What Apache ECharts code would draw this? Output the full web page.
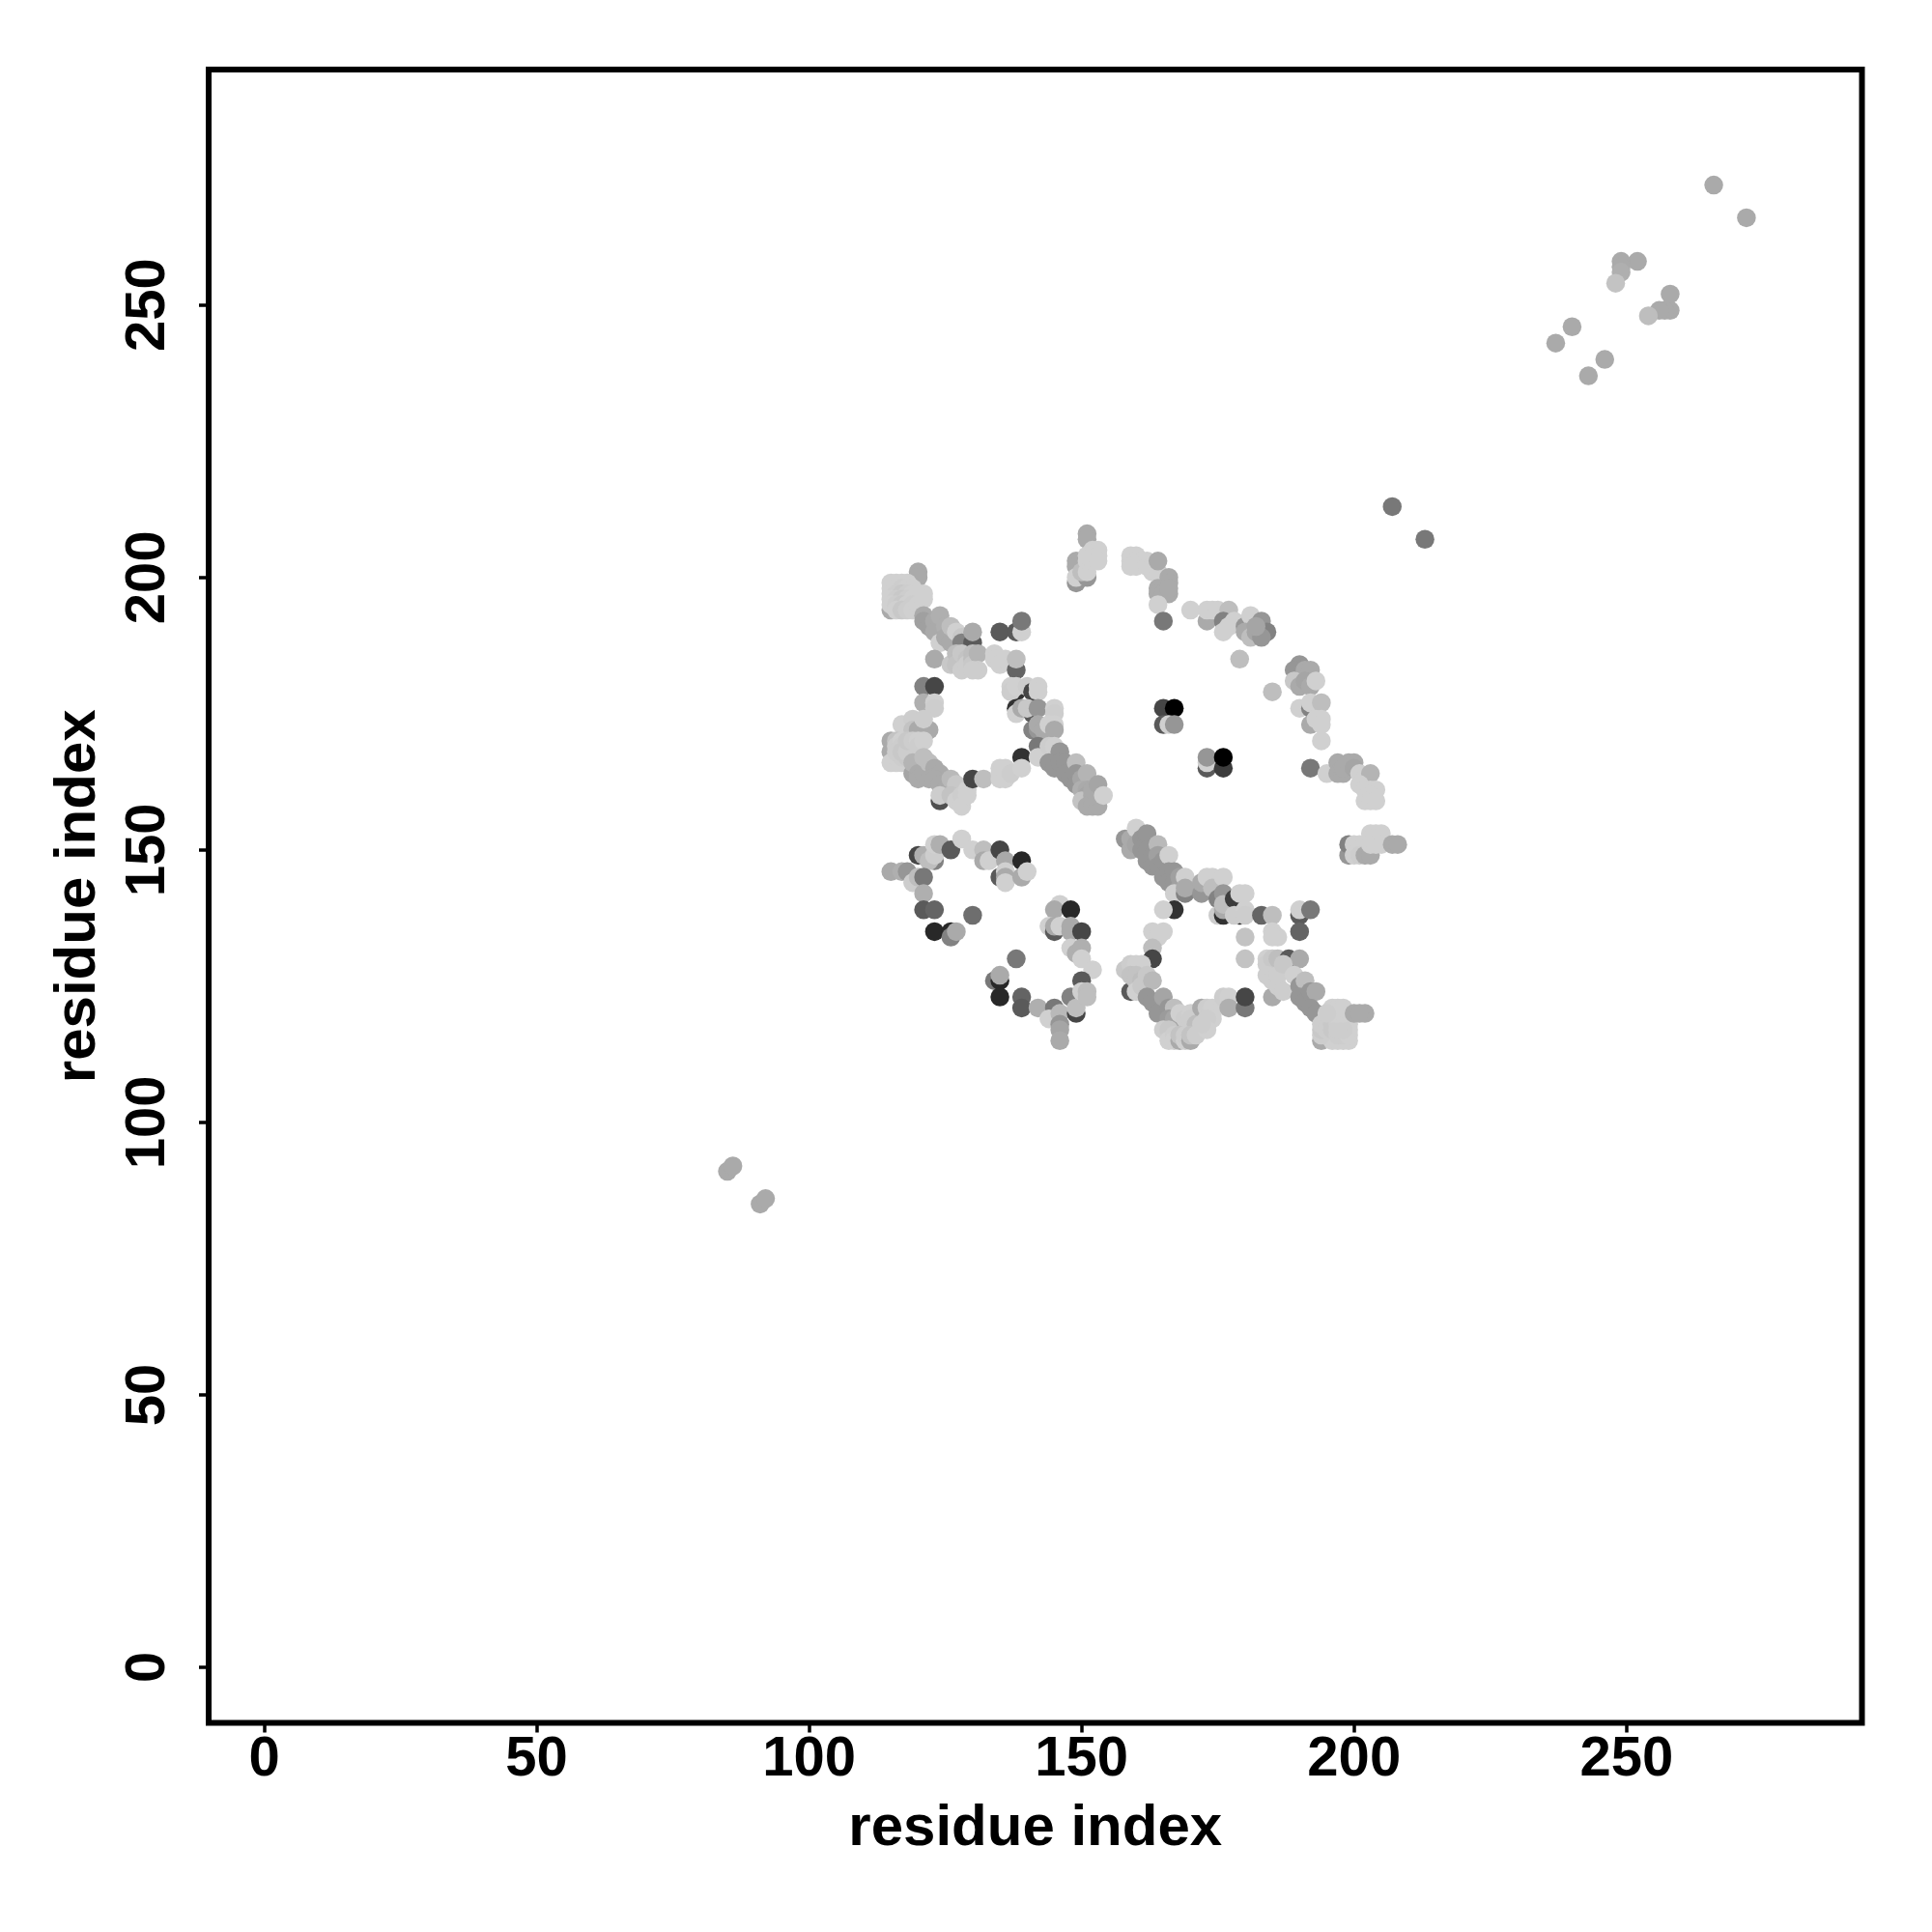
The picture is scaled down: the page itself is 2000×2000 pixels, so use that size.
<!DOCTYPE html>
<html><head><meta charset="utf-8">
<style>html,body{margin:0;padding:0;background:#fff}#c{width:2000px;height:2000px}</style>
<script src="https://cdn.jsdelivr.net/npm/echarts@6/dist/echarts.min.js"></script>
</head><body><div id="c"></div>
<script>
const tickValues=[0,50,100,150,200,250];
const axisTitle='residue index';
// each entry: [residue x, residue y, grey level]
const farContacts=[[85,91,170],[86,92,170],[91,85,170],[92,86,170],[207,213,120],[213,207,120],
[266,272,170],[272,266,170],[252,258,170],[249,258,170],[249,257,170],[249,256,175],[248,254,195],[258,252,170],[258,249,170],[257,249,170],[256,249,170],[254,248,190],[240,246,170],[237,243,170],[246,240,170],[243,237,170]];
const upperLeftDiagonal=[[115,194,170],[120,201,170],[120,200,170],
[116,199,208],[117,199,208],[118,199,208],[115,199,208],[115,198,208],[116,198,208],[117,198,205],[118,198,208],[119,198,208],[115,197,208],[116,197,205],[117,197,200],[118,197,205],[119,197,208],[115,196,208],[116,196,205],[117,196,200],[118,196,205],[119,196,208],[120,197,208],[115,195,208],[116,195,205],[117,195,200],[118,195,208],[119,195,205],[116,194,208],[117,194,200],[118,194,205],[119,194,208],[120,195,208],[121,197,208],[121,196,208],
[121,193,170],[121,192,160],[122,191,160],[123,192,170],[123,190,170],[124,193,175],[125,191,175],[124,188,208],[125,189,170],[126,188,170],[126,191,190],[127,190,208],[128,189,200],[128,188,130],[130,188,90],[130,190,170],
[123,185,170],[126,184,200],[127,186,190],[127,184,195],[128,186,200],[128,183,205],[129,185,195],[129,184,205],[130,186,190],[130,185,190],[130,184,200],[131,186,180],[131,183,205],[130,183,205],
[134,186,208],[134,185,208],[135,185,208],[135,184,208],[136,185,208]];
const upperLeftMiddle=[[135,190,90],[138,190,90],[139,190,208],[139,192,120],[138,183,100],[138,185,190],
[138,179,50],[137,180,208],[137,179,205],[138,180,208],[140,180,205],[141,179,70],[142,180,208],[142,179,208],[138,176,50],[138,175,208],[139,176,170],[141,176,70],[141,175,90],[140,176,200],[142,176,150],[145,176,208],[145,175,205],
[141,172,130],[142,172,150],[142,173,170],[143,172,170],[144,173,208],[145,173,208],[145,172,170],
[139,167,50],[142,169,120],[142,167,208],[144,169,205],[145,169,208],[146,168,150],[144,166,150],[145,165,150],[146,166,150],[147,166,150],[147,164,150],[149,166,190],
[148,163,150],[149,164,150],[149,162,150],[150,163,165],[151,164,180],[150,161,175],[151,161,170],[151,160,165],[150,159,195],[151,158,170],[152,158,170],[153,158,170],[152,160,170],[152,161,170],[153,162,165],[154,160,208]];
const upperLeftLoop=[[121,180,130],[123,180,70],[121,177,175],[123,177,208],[123,176,205],[117,173,208],[119,174,205],[119,172,195],[120,172,170],[121,172,170],[122,172,170],[121,174,205],
[115,170,170],[115,168,170],[116,170,195],[116,169,205],[117,170,208],[117,169,205],[115,166,208],[116,166,208],[117,166,208],[118,166,208],[116,167,208],[117,167,205],[118,167,200],[116,168,205],[117,168,200],[118,168,205],[118,170,200],[119,170,205],[120,170,208],[120,169,205],[121,170,208],
[119,164,165],[120,165,170],[119,166,180],[120,164,170],[120,163,170],[121,164,170],[122,166,190],[121,167,190],[123,165,170],[124,164,170],[122,163,170],[123,163,170],[124,162,170],[125,161,170],[126,163,185],[127,162,200],
[124,159,80],[124,160,205],[126,160,195],[127,159,208],[128,160,205],[128,158,208],[129,161,208],[129,160,208],[130,163,70],[132,163,190],[135,165,208],[135,164,208],[135,163,208],[136,165,208],[136,163,208],[137,164,205],[139,165,208]];
const upperMiddleBlocks=[[151,208,170],[151,207,170],[149,203,170],[149,202,170],[149,199,150],[149,200,208],[151,200,150],[150,201,190],[151,201,208],[151,203,208],[151,204,208],[152,205,208],[153,205,208],[152,204,208],[153,204,208],[152,203,208],[153,203,208],
[159,204,208],[160,204,208],[159,203,208],[160,203,208],[159,202,208],[160,202,208],[161,203,208],[162,203,208],[162,202,208],[163,202,208],[163,201,208],[164,201,208],[164,203,170],
[166,200,170],[166,199,170],[164,198,170],[164,197,170],[165,197,170],[166,197,170],[166,198,170],[164,195,208],[165,192,120]];
const upperRightArc=[[170,194,208],[173,192,170],[173,194,208],[174,194,208],[175,194,208],[177,194,190],[176,192,130],[178,192,208],[176,190,208],[177,191,208],
[180,191,150],[181,193,208],[180,190,170],[181,189,190],[182,190,165],[183,192,150],[184,190,130],[183,189,150],[182,191,165],[179,185,190],[185,179,190],
[190,184,150],[189,183,150],[191,183,170],[192,183,170],[189,181,200],[190,180,170],[191,181,165],[192,180,170],[193,181,208],[190,176,208],[192,176,130],[192,177,208],[194,177,190],
[192,173,170],[194,174,208],[193,174,208],[194,173,208],[194,170,208],
[192,165,120],[195,164,208],[197,166,170],[197,164,170],[198,164,170],[198,165,170],[199,166,170],[200,166,170],[200,165,165],[201,164,208],[202,163,208],[203,164,180],[201,162,208],[202,161,208],[203,161,208],[204,161,208],[203,160,208],[202,159,208],[203,159,208],[204,159,208]];
const centreContacts=[[165,176,70],[167,176,0],[165,173,90],[166,173,208],[167,173,150],[173,165,90],[173,166,208],[173,167,150],[176,165,60],[176,167,0]];
const lowerLeftUpper=[[120,149,70],[123,148,130],[115,146,170],[117,146,175],[118,146,150],[119,144,205],[120,145,190],[121,149,175],[122,148,190],[123,149,205],[123,151,208],[124,151,175],[126,150,90],[128,152,208],[130,150,208],[132,150,190],[132,148,170],[133,148,208],[135,150,70],[135,145,90],[136,148,170],[136,146,208],[136,145,170],[136,144,208],[139,148,40],[139,145,170],[140,146,208],
[121,145,120],[121,142,175],[121,139,90],[123,139,100],[130,138,110],[123,135,40],[126,135,40],[126,134,130],[127,135,170]];
const lowerLeftLoop=[[146,140,208],[145,139,170],[148,139,40],[144,136,208],[145,135,90],[145,136,170],[146,136,208],[148,136,170],[148,135,170],[150,135,70],[148,132,208],[149,131,175],[150,132,175],[150,130,208],[152,128,208],
[138,130,120],[150,126,90],[134,126,120],[135,126,40],[135,127,170],[135,123,40],[139,123,100],[139,121,90],[142,121,175],[145,121,120],[144,119,208],[146,120,185],[146,118,150],[146,117,165],[146,115,170],[148,123,130],[149,120,70],[149,121,190],[150,124,208],[151,124,190],[151,123,190]];
const lowerRightDiagonal=[[158,152,150],[159,150,170],[159,152,170],[160,154,208],[160,151,165],[161,152,150],[161,150,150],[162,153,150],[162,150,150],[162,148,150],[163,149,150],[163,147,150],[164,151,185],[164,149,160],[164,147,150],[165,148,150],[165,145,150],[166,149,208],[166,146,150],[166,144,150],[167,146,150],[167,144,150],[168,145,160],[168,143,160],[169,145,208],
[167,142,208],[169,142,130],[169,143,170],[172,142,150],[172,144,170],[173,145,208],[174,145,208],[174,143,190],[176,145,208],[175,141,130],[176,142,150],[175,138,205],[176,138,50],[176,139,170],[176,140,190],[178,141,60],[179,138,40],[178,138,205],[179,142,208],[180,142,208],[180,139,208],[180,138,205],[183,138,100],[185,138,190],
[185,135,208],[186,134,208],[185,134,208],[190,138,90],[190,139,208],[192,139,120],[190,135,100],[180,134,195],[180,130,195]];
const lowerMiddleArc=[[167,139,50],[165,139,208],[163,135,208],[165,135,208],[164,134,208],[163,132,190],[163,130,70]];
const lowerMiddleLoop=[[159,124,90],[158,128,200],[159,129,205],[160,129,208],[161,129,208],[159,127,195],[160,127,195],[160,126,195],[161,126,190],[160,124,208],[161,124,208],[161,125,200],[162,127,200],[163,126,185],
[162,123,150],[163,122,150],[164,120,150],[165,123,165],[166,121,150],[167,121,190],[166,119,155],[167,119,165],[165,117,205],[166,117,200],[168,120,208],[169,119,205],[170,120,208],[170,119,205],[171,118,190],
[166,115,208],[167,116,205],[167,115,208],[168,115,170],[168,116,195],[169,115,208],[169,116,205],[170,115,170],[170,116,195],[171,116,205],[172,121,170],[173,121,205],[174,121,208],[174,120,208],[174,119,208],[173,119,205],[173,117,208],[172,118,205],
[176,123,205],[177,123,208],[177,121,175],[180,121,120],[180,123,70]];
const lowerRightLoop=[[185,123,170],[184,130,208],[184,129,205],[185,130,200],[186,130,190],[188,130,90],[188,128,130],[190,130,170],[184,127,205],[185,126,205],[186,125,205],[186,127,205],[187,129,200],
[187,124,205],[189,127,208],[190,125,150],[191,126,190],[190,123,150],[191,122,150],[192,124,150],[193,124,170],[192,121,150],[193,120,150],
[194,115,170],[195,116,208],[196,115,208],[197,115,208],[198,115,208],[199,115,208],[194,116,205],[194,117,200],[194,118,205],[195,117,205],[196,117,200],[197,116,205],[198,116,205],[199,116,208],[195,119,205],[196,119,205],[196,118,200],[197,118,205],[198,118,208],[199,118,208],[199,117,208],[198,117,205],[197,117,205],[196,120,208],[197,120,208],[198,120,208],[196,121,208],[197,121,208],[198,121,208],[195,120,205],[200,120,170],[202,120,170],[201,120,170]];
const lowerRightBlocks=[[199,149,150],[199,151,130],[200,151,208],[200,149,208],[201,151,208],[201,150,208],[201,149,205],[202,149,170],[203,149,170],[203,153,208],[204,153,208],[205,153,208],[203,152,208],[204,152,208],[205,152,208],[203,151,208],[204,151,208],[205,151,208],[207,151,170],[208,151,170]];
const contactPoints=[].concat(farContacts,upperLeftDiagonal,upperLeftMiddle,upperLeftLoop,upperMiddleBlocks,upperRightArc,centreContacts,lowerLeftUpper,lowerLeftLoop,lowerRightDiagonal,lowerMiddleArc,lowerMiddleLoop,lowerRightLoop,lowerRightBlocks);
const font='"Liberation Sans",Arial,sans-serif';
const titleStyle={color:'#000',fontFamily:font,fontWeight:'bold',fontSize:60};
const labelStyle={color:'#000',fontFamily:font,fontWeight:'bold',fontSize:58};
const axisCommon={type:'value',min:-10.2,max:293.2,splitLine:{show:false},axisLine:{show:false,onZero:false},
  axisTick:{show:true,length:10,lineStyle:{color:'#000',width:3.5},customValues:tickValues},
  name:axisTitle,nameLocation:'middle',nameTextStyle:titleStyle};
const chart=echarts.init(document.getElementById('c'),null,{renderer:'canvas'});
chart.setOption({animation:false,backgroundColor:'#fff',
  grid:{show:true,left:216,right:72.5,top:72,bottom:216.5,borderColor:'#000',borderWidth:6,backgroundColor:'transparent'},
  xAxis:Object.assign({},axisCommon,{nameGap:80,axisLabel:Object.assign({},labelStyle,{margin:9,customValues:tickValues})}),
  yAxis:Object.assign({},axisCommon,{nameGap:105,axisLabel:Object.assign({},labelStyle,{margin:33,rotate:90,customValues:tickValues})}),
  series:[{type:'scatter',symbol:'circle',symbolSize:19.5,data:contactPoints,
    encode:{x:0,y:1},
    itemStyle:{opacity:1,color:function(p){const g=p.value[2];return 'rgb('+g+','+g+','+g+')';}}}]
});
</script></body></html>
